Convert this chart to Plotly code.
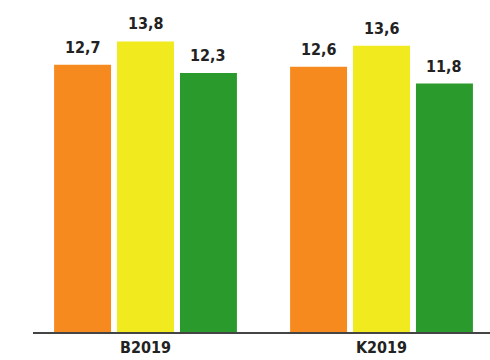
import plotly.graph_objects as go

# Data
categories = ["B2019", "K2019"]
series_names = ["Sarja 1", "Sarja 2", "Sarja 3"]
series_values = [
    [12.7, 12.6],
    [13.8, 13.6],
    [12.3, 11.8],
]
series_colors = ["#F78A1E", "#F0EA1F", "#299A2B"]

FONT = "DejaVu Sans Condensed, Liberation Sans Narrow, DejaVu Sans, sans-serif"
BARGAP = 0.2

x_pos = list(range(len(categories)))
n_series = len(series_values)
slot = (1 - BARGAP) / n_series

fig = go.Figure()
for i, (name, vals, col) in enumerate(zip(series_names, series_values, series_colors)):
    fig.add_trace(go.Bar(
        x=x_pos,
        y=vals,
        name=name,
        marker=dict(color=col, line=dict(width=0)),
        hoverinfo="skip",
    ))
    # value labels above each bar
    offset = (i - (n_series - 1) / 2) * slot
    for xp, v in zip(x_pos, vals):
        fig.add_annotation(
            x=xp + offset, y=v,
            text=f"<b>{v:.1f}</b>".replace(".", ","),
            showarrow=False,
            yanchor="bottom",
            yshift=6,
            font=dict(family=FONT, size=16, color="#222222"),
        )

fig.update_layout(
    width=490,
    height=360,
    margin=dict(l=33, r=0, t=0, b=28),
    paper_bgcolor="white",
    plot_bgcolor="white",
    barmode="group",
    bargap=BARGAP,
    bargroupgap=0.095,
    showlegend=False,
    xaxis=dict(
        range=[-0.4767, 1.4597],
        tickmode="array",
        tickvals=x_pos,
        ticktext=[f"<b>{c}</b>" for c in categories],
        tickfont=dict(family=FONT, size=16, color="#222222"),
        showgrid=False,
        zeroline=False,
        showline=True,
        linecolor="#444444",
        linewidth=1.5,
        ticks="",
    ),
    yaxis=dict(
        range=[0, 15.77],
        visible=False,
        showgrid=False,
        zeroline=False,
    ),
)

fig.write_html("out.html")
